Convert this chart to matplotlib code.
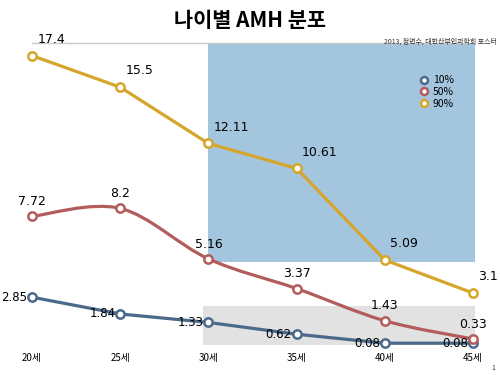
import matplotlib.pyplot as plt
from matplotlib.path import Path
from matplotlib.patches import PathPatch, Rectangle
from matplotlib.lines import Line2D

plt.rcParams['font.family'] = ['Noto Sans CJK KR', 'DejaVu Sans']

# data
ages = [20, 25, 30, 35, 40, 45]
age_labels = ['20세', '25세', '30세', '35세', '40세', '45세']
p10 = [2.85, 1.84, 1.33, 0.62, 0.08, 0.08]
p50 = [7.72, 8.2, 5.16, 3.37, 1.43, 0.33]
p90 = [17.4, 15.5, 12.11, 10.61, 5.09, 3.1]
series_names = ['10%', '50%', '90%']

c10 = '#4b6a8b'
c50 = '#b35c5c'
c90 = '#d6a52c'

fig = plt.figure(figsize=(5, 3.75), dpi=100)
ax = fig.add_axes([0.064, 0.0813, 0.882, 0.804])
ax.set_xlim(20, 45)
ax.set_ylim(0, 18.16)

# background boxes
ax.add_patch(Rectangle((30, 4.97), 15.1, 18.16 - 4.97, facecolor='#a3c5dd',
                       edgecolor='none', zorder=0, clip_on=False))
ax.add_patch(Rectangle((29.7, 0), 15.4, 2.3, facecolor='#e2e2e2',
                       edgecolor='none', zorder=0, clip_on=False))


def smooth_path(xs, ys):
    # catmull-rom through the points, drawn as cubic bezier
    pts = list(zip(xs, ys))
    verts = [pts[0]]
    codes = [Path.MOVETO]
    n = len(pts)
    for i in range(n - 1):
        p0 = pts[i - 1] if i > 0 else pts[i]
        p1 = pts[i]
        p2 = pts[i + 1]
        p3 = pts[i + 2] if i + 2 < n else pts[i + 1]
        c1 = (p1[0] + (p2[0] - p0[0]) / 6, p1[1] + (p2[1] - p0[1]) / 6)
        c2 = (p2[0] - (p3[0] - p1[0]) / 6, p2[1] - (p3[1] - p1[1]) / 6)
        verts += [c1, c2, p2]
        codes += [Path.CURVE4] * 3
    return Path(verts, codes)


mk = dict(marker='o', markersize=6, markerfacecolor='white',
          markeredgewidth=1.8, linestyle='none', clip_on=False, zorder=5)
lw = 2.3

ax.plot(ages, p10, color=c10, lw=lw, clip_on=False, zorder=3)
ax.plot(ages, p10, color=c10, markeredgecolor=c10, **mk)

ax.add_patch(PathPatch(smooth_path(ages, p50), facecolor='none', edgecolor=c50,
                       lw=lw, clip_on=False, zorder=3))
ax.plot(ages, p50, color=c50, markeredgecolor=c50, **mk)

ax.plot(ages, p90, color=c90, lw=lw, clip_on=False, zorder=4)
ax.plot(ages, p90, color=c90, markeredgecolor=c90, **mk)

# value labels
for x, v in zip(ages, p90):
    ax.annotate(f'{v:g}', (x, v), xytext=(4, 7), textcoords='offset points',
                fontsize=9, ha='left', va='bottom', family='DejaVu Sans')
for x, v in zip(ages, p50):
    ax.annotate(f'{v:g}', (x, v), xytext=(0, 6), textcoords='offset points',
                fontsize=9, ha='center', va='bottom', family='DejaVu Sans')
for x, v in zip(ages, p10):
    ax.annotate(f'{v:g}', (x, v), xytext=(-3.5, 0), textcoords='offset points',
                fontsize=8.5, ha='right', va='center', family='DejaVu Sans')

# axes styling
for s in ['left', 'right', 'bottom']:
    ax.spines[s].set_visible(False)
ax.spines['top'].set_color('#c8c8c8')
ax.spines['top'].set_linewidth(1)
ax.set_yticks([])
ax.set_xticks(ages)
ax.set_xticklabels(age_labels, fontsize=7)
ax.tick_params(axis='x', length=0, pad=6)

handles = [Line2D([], [], marker='o', markersize=5, markerfacecolor='white',
                  markeredgewidth=1.8, markeredgecolor=c, linestyle='none')
           for c in (c10, c50, c90)]
fig.legend(handles, series_names, loc='upper left', bbox_to_anchor=(0.83, 0.81),
           frameon=False, fontsize=7.5, handletextpad=0.3, labelspacing=0.15,
           borderaxespad=0, handlelength=1)

fig.text(0.5, 0.945, '나이별 AMH 분포', ha='center', va='center',
         fontsize=15, fontweight='bold')
fig.text(0.994, 0.89, '2013, 정면수, 대한산부인과학회 포스터', ha='right',
         va='center', fontsize=5, color='#333333')
fig.text(0.99, 0.02, '1', ha='right', va='center', fontsize=5, color='#333333')

fig.savefig('out.png', dpi=100)
